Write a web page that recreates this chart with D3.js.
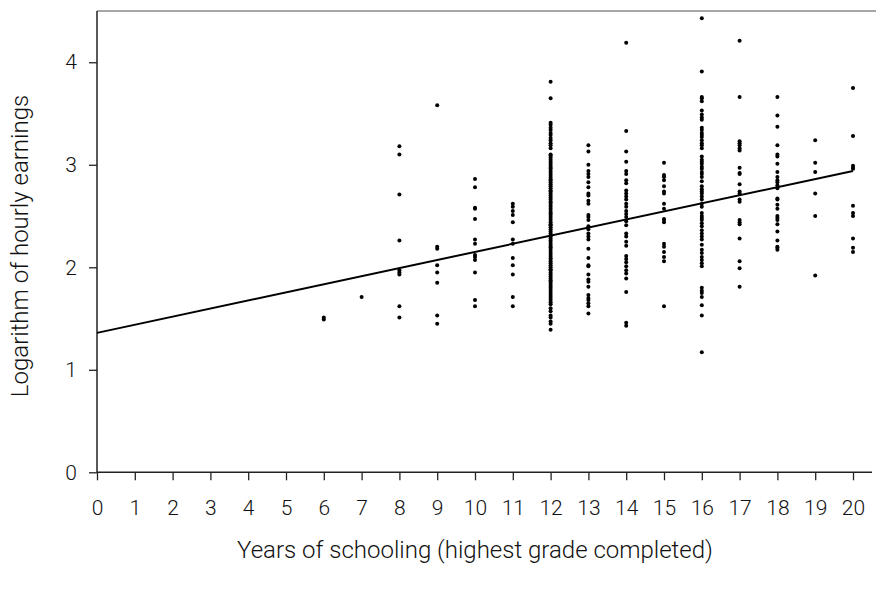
<!DOCTYPE html>
<html>
<head>
<meta charset="utf-8">
<script src="https://cdn.jsdelivr.net/npm/d3@7/dist/d3.min.js"></script>
<style>
  html, body { margin: 0; padding: 0; background: #fff; }
  svg { display: block; }
  text { font-family: Roboto, "Liberation Sans", Arial, sans-serif; font-weight: 300; fill: #111; }
</style>
</head>
<body>
<svg id="chart" width="876" height="590"></svg>
<script>
// ---- Data ----
const xTicks = [0,1,2,3,4,5,6,7,8,9,10,11,12,13,14,15,16,17,18,19,20];
const yTicks = [0,1,2,3,4];

const s6  = [1.51, 1.49];
const s7  = [1.71];
const s8  = [3.18, 3.10, 2.71, 2.26, 1.97, 1.95, 1.93, 1.62, 1.51];
const s9  = [3.58, 2.20, 2.18, 2.02, 1.95, 1.85, 1.53, 1.45];
const s10 = [2.86, 2.78, 2.58, 2.57, 2.47, 2.27, 2.23, 2.12, 2.10, 2.07, 1.95, 1.68, 1.62];
const s11 = [2.62, 2.59, 2.55, 2.51, 2.44, 2.27, 2.23, 2.09, 2.02, 1.93, 1.71, 1.62];
const s12 = [3.81, 3.65, 3.41, 3.39, 3.36, 3.34, 3.31, 3.29, 3.26, 3.24, 3.21, 3.19, 3.16,
             3.10, 3.09, 3.07, 3.05, 3.03, 3.01, 2.99, 2.97, 2.96, 2.94, 2.92, 2.90, 2.88,
             2.86, 2.85, 2.83, 2.81, 2.79, 2.77, 2.75, 2.74, 2.72, 2.70, 2.68, 2.66, 2.64,
             2.63, 2.61, 2.59, 2.57, 2.55, 2.53, 2.52, 2.50, 2.48, 2.46, 2.44, 2.42, 2.41,
             2.39, 2.37, 2.35, 2.33, 2.31, 2.30, 2.28, 2.26, 2.24, 2.22, 2.20, 2.19, 2.17,
             2.15, 2.13, 2.11, 2.09, 2.08, 2.06, 2.04, 2.02, 2.00, 1.98, 1.97, 1.95, 1.93,
             1.91, 1.89, 1.87, 1.86, 1.84, 1.82, 1.80, 1.78, 1.76, 1.74, 1.72, 1.70, 1.68,
             1.66, 1.64, 1.60, 1.57, 1.53, 1.51, 1.47, 1.45, 1.39];
const s13 = [3.19, 3.13, 3.00, 2.94, 2.91, 2.88, 2.83, 2.78, 2.72, 2.70, 2.65, 2.62, 2.51,
             2.49, 2.46, 2.40, 2.37, 2.33, 2.30, 2.27, 2.18, 2.09, 2.02, 2.01, 1.93, 1.88,
             1.86, 1.81, 1.73, 1.70, 1.68, 1.65, 1.62, 1.55];
const s14 = [4.19, 3.33, 3.13, 3.03, 2.94, 2.91, 2.85, 2.82, 2.75, 2.72, 2.69, 2.66, 2.62,
             2.59, 2.55, 2.52, 2.49, 2.45, 2.41, 2.33, 2.30, 2.25, 2.21, 2.11, 2.08, 2.05,
             2.01, 1.97, 1.94, 1.89, 1.76, 1.46, 1.43];
const s15 = [3.02, 2.90, 2.88, 2.85, 2.79, 2.74, 2.72, 2.62, 2.57, 2.47, 2.46, 2.44, 2.23,
             2.20, 2.15, 2.10, 2.06, 1.62];
const s16 = [4.43, 3.91, 3.66, 3.65, 3.62, 3.53, 3.49, 3.46, 3.44, 3.36, 3.34, 3.31, 3.29,
             3.27, 3.24, 3.21, 3.19, 3.16, 3.08, 3.05, 3.03, 3.01, 2.98, 2.96, 2.93, 2.91,
             2.88, 2.84, 2.79, 2.76, 2.74, 2.72, 2.69, 2.66, 2.62, 2.59, 2.53, 2.50, 2.48,
             2.46, 2.43, 2.40, 2.36, 2.33, 2.30, 2.27, 2.22, 2.17, 2.14, 2.10, 2.07, 2.04,
             2.01, 1.80, 1.77, 1.75, 1.71, 1.63, 1.53, 1.17];
const s17 = [4.21, 3.66, 3.23, 3.21, 3.19, 3.16, 3.14, 2.97, 2.92, 2.91, 2.81, 2.74, 2.72,
             2.66, 2.64, 2.46, 2.44, 2.42, 2.28, 2.06, 1.99, 1.81];
const s18 = [3.66, 3.48, 3.37, 3.19, 3.10, 3.08, 3.01, 2.93, 2.88, 2.85, 2.83, 2.80, 2.77,
             2.67, 2.66, 2.61, 2.57, 2.50, 2.48, 2.46, 2.42, 2.35, 2.26, 2.20, 2.19, 2.17];
const s19 = [3.24, 3.02, 2.93, 2.72, 2.50, 1.92];
const s20 = [3.75, 3.28, 2.99, 2.97, 2.96, 2.60, 2.53, 2.50, 2.28, 2.19, 2.15];

const columns = [
  {s: 6, v: s6}, {s: 7, v: s7}, {s: 8, v: s8}, {s: 9, v: s9}, {s: 10, v: s10},
  {s: 11, v: s11}, {s: 12, v: s12}, {s: 13, v: s13}, {s: 14, v: s14}, {s: 15, v: s15},
  {s: 16, v: s16}, {s: 17, v: s17}, {s: 18, v: s18}, {s: 19, v: s19}, {s: 20, v: s20}
];

// fitted regression line read at its two ends
const fitX = [0, 20];
const fitY = [1.36, 2.94];

// ---- Chart ----
const svg = d3.select("#chart");
const x = d3.scaleLinear().domain([0, 20]).range([97, 853]);
const y = d3.scaleLinear().domain([0, 4.5]).range([472.3, 11]);

const points = columns.flatMap(c => c.v.map(v => ({s: c.s, v})));

// top border (gray)
svg.append("line")
  .attr("x1", x(0)).attr("x2", 876)
  .attr("y1", y(4.5)).attr("y2", y(4.5))
  .attr("stroke", "#8a8a8a").attr("stroke-width", 1.5);

// x axis
const xAxis = svg.append("g").attr("transform", `translate(0,${y(0)})`)
  .call(d3.axisBottom(x).tickValues(xTicks).tickSize(8).tickSizeOuter(0).tickPadding(20)
        .tickFormat(d3.format("d")));
xAxis.select(".domain").remove();
xAxis.selectAll(".tick line").attr("stroke", "#222").attr("stroke-width", 1.3);
xAxis.selectAll("text").style("font-size", "21px").attr("fill", "#111");
xAxis.append("line").attr("x1", x(0)).attr("x2", 872).attr("y1", 0).attr("y2", 0)
  .attr("stroke", "#222").attr("stroke-width", 1.5);

// y axis
const yAxis = svg.append("g").attr("transform", `translate(${x(0)},0)`)
  .call(d3.axisLeft(y).tickValues(yTicks).tickSize(8).tickSizeOuter(0).tickPadding(12)
        .tickFormat(d3.format("d")));
yAxis.select(".domain").remove();
yAxis.selectAll(".tick line").attr("stroke", "#222").attr("stroke-width", 1.3);
yAxis.selectAll("text").style("font-size", "21px").attr("fill", "#111");
yAxis.append("line").attr("x1", 0).attr("x2", 0).attr("y1", y(0)).attr("y2", y(4.5))
  .attr("stroke", "#222").attr("stroke-width", 1.5);

// scatter points
svg.append("g").selectAll("circle").data(points).join("circle")
  .attr("cx", d => x(d.s)).attr("cy", d => y(d.v)).attr("r", 2)
  .attr("fill", "#000");

// regression line
const fit = fitX.map((s, i) => [s, fitY[i]]);
svg.append("path").datum(fit)
  .attr("d", d3.line().x(d => x(d[0])).y(d => y(d[1])))
  .attr("fill", "none").attr("stroke", "#000").attr("stroke-width", 2);

// axis titles
svg.append("text")
  .attr("x", 475).attr("y", 558)
  .attr("text-anchor", "middle")
  .style("font-size", "24px")
  .text("Years of schooling (highest grade completed)");

svg.append("text")
  .attr("transform", `translate(28,${246}) rotate(-90)`)
  .attr("text-anchor", "middle")
  .style("font-size", "24px")
  .text("Logarithm of hourly earnings");
</script>
</body>
</html>
